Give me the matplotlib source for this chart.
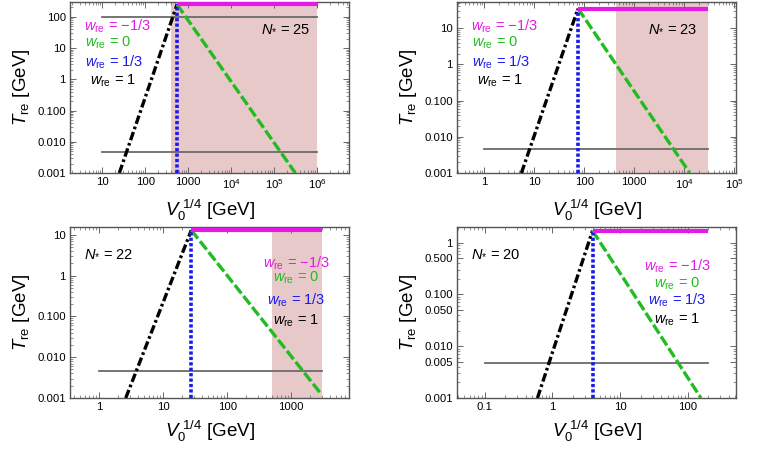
import numpy as np
import matplotlib.pyplot as plt
from matplotlib.ticker import NullFormatter, LogLocator

plt.rcParams['font.family'] = ['Liberation Sans', 'DejaVu Sans']
plt.rcParams['mathtext.fontset'] = 'custom'
plt.rcParams['mathtext.rm'] = 'Liberation Sans'
plt.rcParams['mathtext.it'] = 'Liberation Sans:italic'

# values, one entry per panel (N* = 25, 23, 22, 20)
n_star = [25, 23, 22, 20]
v_peak = [550, 75, 27.5, 3.9]          # V0^(1/4) where all curves meet
t_peak = [250, 35, 13, 1.7]            # T_re at the meeting point
v_w1_low = [25, 5.5, 2.6, 0.6]         # w=1 curve at T = 0.001
v_w0_end = [3.1e5, 1.3e4, 3000, 155]   # w=0 curve end
t_w0_end = [0.001, 0.001, 0.0012, 0.001]
v_max = [1e6, 3e4, 3000, 200]          # end of w=-1/3 line
grey_lo = [10, 1, 1, 0.1]
grey_levels = [[100, 0.0047], [0.0047], [0.0047], [0.0047]]
shade = [(400, 1e6), (440, 3e4), (500, 3000), None]
xlims = [(10**0.25, 10**6.74), (10**-0.55, 10**5.04), (0.35, 8000), (0.039, 510)]
ylims = [(0.001, 300), (0.001, 53), (0.001, 15.6), (0.001, 2.0)]

xticks = [[10, 100, 1000, 1e4, 1e5, 1e6],
          [1, 10, 100, 1000, 1e4, 1e5],
          [1, 10, 100, 1000],
          [0.1, 1, 10, 100]]
xticklabels = [['10', '100', '1000', '$10^4$', '$10^5$', '$10^6$'],
               ['1', '10', '100', '1000', '$10^4$', '$10^5$'],
               ['1', '10', '100', '1000'],
               ['0.1', '1', '10', '100']]
yticks = [[0.001, 0.01, 0.1, 1, 10, 100],
          [0.001, 0.01, 0.1, 1, 10],
          [0.001, 0.01, 0.1, 1, 10],
          [0.001, 0.005, 0.01, 0.05, 0.1, 0.5, 1]]
yticklabels = [['0.001', '0.010', '0.100', '1', '10', '100'],
               ['0.001', '0.010', '0.100', '1', '10'],
               ['0.001', '0.010', '0.100', '1', '10'],
               ['0.001', '0.005', '0.010', '0.050', '0.100', '0.500', '1']]

w_labels = [r'$w_{\rm re}$ = −1/3', r'$w_{\rm re}$ = 0', r'$w_{\rm re}$ = 1/3', r'$w_{\rm re}$ = 1']
w_colors = ['#e619e6', '#22bb22', '#1a1aee', 'black']

# label placement (axes fraction)
w_pos = [[(0.05, 0.86), (0.055, 0.76), (0.055, 0.65), (0.07, 0.54)],
         [(0.05, 0.86), (0.055, 0.76), (0.055, 0.65), (0.07, 0.54)],
         [(0.81, 0.79), (0.81, 0.70), (0.81, 0.57), (0.81, 0.45)],
         [(0.79, 0.77), (0.79, 0.67), (0.79, 0.57), (0.79, 0.46)]]
w_ha = ['left', 'left', 'center', 'center']
n_pos = [(0.86, 0.85), (0.86, 0.85), (0.05, 0.85), (0.05, 0.85)]
n_ha = ['right', 'right', 'left', 'left']

W, H = 765, 449
rects = [(70, 2), (457, 2), (70, 227), (457, 227)]
aw, ah = 279, 171

fig = plt.figure(figsize=(7.65, 4.49), dpi=100)

for i in range(4):
    x0, y0 = rects[i]
    ax = fig.add_axes([x0 / W, 1 - (y0 + ah) / H, aw / W, ah / H])
    ax.set_xscale('log')
    ax.set_yscale('log')

    if shade[i] is not None:
        ax.axvspan(shade[i][0], shade[i][1], color='#e8c9c9', lw=0, zorder=0)
    for g in grey_levels[i]:
        ax.plot([grey_lo[i], v_max[i]], [g, g], color='#6a6a6a', lw=1.3, zorder=1)

    ax.plot([v_w1_low[i], v_peak[i]], [0.001, t_peak[i]], color='black', lw=2.4,
            linestyle=(0, (2.6, 0.9, 0.8, 0.9)), zorder=3)
    ax.plot([v_peak[i], v_w0_end[i]], [t_peak[i], t_w0_end[i]], color='#22bb22', lw=2.4,
            linestyle=(0, (3.2, 1.0)), zorder=3)
    ax.plot([v_peak[i], v_peak[i]], [0.001, t_peak[i]], color='#1a1aee', lw=2.6,
            linestyle=(0, (0.9, 0.6)), zorder=4)
    ax.plot([v_peak[i], v_max[i]], [t_peak[i], t_peak[i]], color='#e619e6', lw=3.0,
            solid_capstyle='butt', zorder=5)

    ax.set_xlim(*xlims[i])
    ax.set_ylim(*ylims[i])
    ax.set_xticks(xticks[i])
    ax.set_xticklabels(xticklabels[i])
    ax.set_yticks(yticks[i])
    ax.set_yticklabels(yticklabels[i])
    ax.xaxis.set_minor_locator(LogLocator(base=10, subs=np.arange(2, 10)))
    ax.xaxis.set_minor_formatter(NullFormatter())
    ax.yaxis.set_minor_locator(LogLocator(base=10, subs=np.arange(2, 10)))
    ax.yaxis.set_minor_formatter(NullFormatter())
    ax.tick_params(which='both', direction='in', top=True, right=True,
                   color='#666666', labelsize=8.2, pad=3)
    ax.tick_params(which='major', length=4, width=0.7)
    ax.tick_params(which='minor', length=2, width=0.5)
    for s in ax.spines.values():
        s.set_color('#555555')
        s.set_linewidth(1.0)

    ax.set_xlabel(r'$V_0^{\ 1/4}$ [GeV]', fontsize=13.5, labelpad=5)
    ax.set_ylabel(r'$T_{\rm re}$ [GeV]', fontsize=13.5, labelpad=4)

    for lab, col, pos in zip(w_labels, w_colors, w_pos[i]):
        ax.text(pos[0], pos[1], lab, color=col, fontsize=10.5, ha=w_ha[i], va='center',
                transform=ax.transAxes)
    ax.text(n_pos[i][0], n_pos[i][1], r'$N_{*}$ = %d' % n_star[i], fontsize=10.5,
            ha=n_ha[i], va='center', transform=ax.transAxes)

fig.savefig('out.png', dpi=100)
